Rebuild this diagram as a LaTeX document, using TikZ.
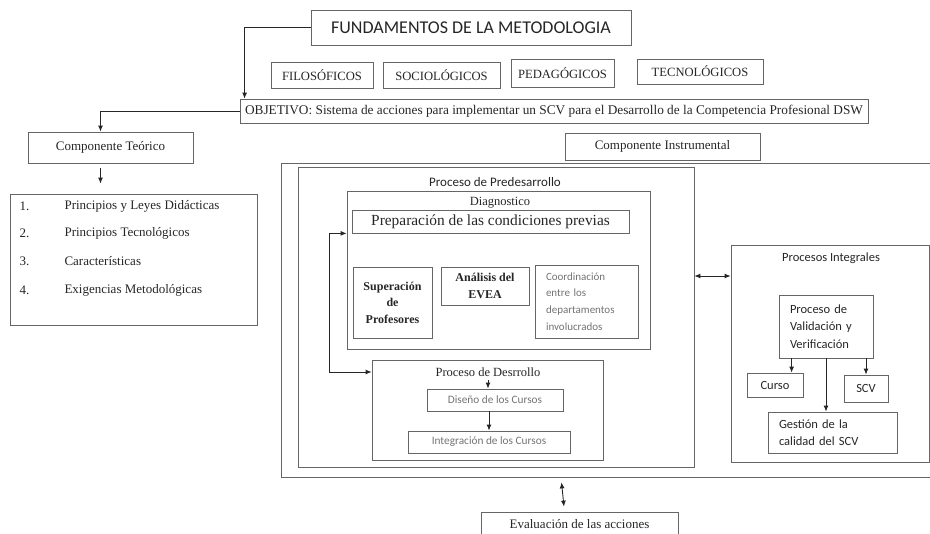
\documentclass[tikz,border=0pt]{standalone}
\usepackage{fontspec}
\setmainfont{Liberation Serif}
\newfontfamily\calibri{Carlito}
\usetikzlibrary{arrows.meta}
\colorlet{linea}{black!60}
\colorlet{tenue}{black!55}
\tikzset{
  >={Latex[length=6pt,width=5pt]},
  caja/.style = {draw=linea, line width=0.8pt, inner sep=0pt, align=center, text=black!85},
  fundam/.style = {caja, font=\fontsize{12.6}{14}\selectfont},
  rotulo/.style = {caja, font=\fontsize{13}{15}\selectfont},
  negrita/.style = {caja, font=\bfseries\fontsize{12}{16.5}\selectfont},
  sans/.style = {caja, font=\calibri\fontsize{12.5}{17.5}\selectfont},
  gris/.style = {caja, text=tenue, font=\calibri\fontsize{11}{16.7}\selectfont},
  izq/.style = {align=left, inner xsep=11pt},
  flecha/.style = {->, draw=black!85, line width=0.9pt},
  punto/.style = {anchor=west, text=black!85, font=\fontsize{13}{15}\selectfont}
}

\begin{document}
\begin{tikzpicture}[x=1pt, y=-1pt]
  \useasboundingbox (0,0) rectangle (930,534);
  \node[caja, minimum width=320, minimum height=35, font=\calibri\fontsize{18}{20}\selectfont] (fund) at (471,27.5) {FUNDAMENTOS DE LA METODOLOGIA};
  \node[fundam, minimum width=102, minimum height=26] (filo) at (322,75) {FILOSÓFICOS};
  \node[fundam, minimum width=117, minimum height=26] (socio) at (441.5,75) {SOCIOLÓGICOS};
  \node[fundam, minimum width=103, minimum height=28] (peda) at (562.5,73) {PEDAGÓGICOS};
  \node[fundam, minimum width=126, minimum height=25] (tecno) at (700,71.5) {TECNOLÓGICOS};
  \node[caja, minimum width=628, minimum height=24, font=\fontsize{13.3}{15}\selectfont] (obj) at (554,111) {OBJETIVO: Sistema de acciones para implementar un SCV para el Desarrollo de la Competencia Profesional DSW};
  \node[rotulo, minimum width=165, minimum height=31] (teo) at (110.5,147.5) {Componente Teórico};
  \node[caja, minimum width=247, minimum height=131] (lista) at (133.5,259.5) {};
  \node[punto] (n1) at (16,206) {1.};
  \node[punto] (p1) at (61,206) {Principios y Leyes Didácticas};
  \node[punto] (n2) at (16,233) {2.};
  \node[punto] (p2) at (61,233) {Principios Tecnológicos};
  \node[punto] (n3) at (16,261) {3.};
  \node[punto] (p3) at (61,261) {Características};
  \node[punto] (n4) at (16,290) {4.};
  \node[punto] (p4) at (61,290) {Exigencias Metodológicas};
  \node[rotulo, minimum width=195, minimum height=27] (instr) at (662.5,146.5) {Componente Instrumental};

  \node[caja, minimum width=659, minimum height=314] (outer) at (610.5,320) {};
  \node[caja, minimum width=396, minimum height=300] (pre) at (496,317) {};
  \node[font=\calibri\fontsize{13}{15}\selectfont, text=black!85] (preT) at (495,182) {Proceso de Predesarrollo};
  \node[caja, minimum width=303, minimum height=158] (diag) at (498.5,270) {};
  \node[font=\fontsize{12.5}{15}\selectfont, text=black!85] (diagT) at (500,203) {Diagnostico};
  \node[caja, minimum width=277, minimum height=23, font=\fontsize{15.4}{18}\selectfont] (prep) at (490.5,221.5) {Preparación de las condiciones previas};
  \node[negrita, minimum width=79, minimum height=71] (sup) at (392.5,302.5) {Superación\\de\\Profesores};
  \node[negrita, minimum width=88, minimum height=38] (ana) at (485,286) {Análisis del\\EVEA};
  \node[gris, izq, text width=81, minimum height=73] (coord) at (586.5,301.5) {Coordinación\\entre los\\departamentos\\involucrados};
  \node[caja, minimum width=231, minimum height=100] (des) at (487.5,410) {};
  \node[font=\fontsize{12.5}{15}\selectfont, text=black!85] (desT) at (488,372) {Proceso de Desrrollo};
  \node[gris, minimum width=136, minimum height=22, font=\calibri\fontsize{11.3}{14}\selectfont] (dis) at (495,400) {Diseño de los Cursos};
  \node[gris, minimum width=162, minimum height=22, font=\calibri\fontsize{11.3}{14}\selectfont] (integ) at (489,442) {Integración de los Cursos};

  \node[caja, minimum width=198, minimum height=217] (integr) at (830,353.5) {};
  \node[font=\calibri\fontsize{12.5}{15}\selectfont, text=black!85] (integrT) at (831,258) {Procesos Integrales};
  \node[sans, izq, text width=72, minimum height=63] (valid) at (826,326.5) {Proceso de\\Validación y\\Verificación};
  \node[sans, minimum width=56, minimum height=24] (curso) at (775,385) {Curso};
  \node[sans, minimum width=44, minimum height=27] (scv) at (866,388.5) {SCV};
  \node[sans, izq, text width=107, minimum height=41] (gest) at (832.5,432.5) {Gestión de la\\calidad del SCV};
  \node[rotulo, minimum width=197, minimum height=24] (eval) at (579.5,524) {Evaluación de las acciones};

  \coordinate (lk) at (329,0);
  \coordinate (mid) at (712,276);
  \draw[flecha] (fund.west) -| ([xshift=5pt]obj.north west);
  \draw[flecha] (obj.west) -| ([xshift=-10pt]teo.north);
  \draw[flecha, shorten <=5pt, shorten >=10pt] ([xshift=-10pt]teo.south) -- ([xshift=-10pt]teo.south |- lista.north);
  \draw[flecha, <->] (prep.south -| diag.west) -- (prep.south -| lk) -- (desT -| lk) -- (desT -| des.west);
  \draw[flecha] (desT) -- (desT |- dis.north);
  \draw[flecha] ([xshift=-6pt]dis.south) -- (integ.north);
  \draw[flecha, <->] (mid -| pre.east) -- (mid -| integr.west);
  \draw[flecha] ([xshift=13pt]valid.south west) -- ([xshift=13pt]valid.south west |- curso.north);
  \draw[flecha] (valid.south -| scv) -- (scv.north);
  \draw[flecha] (valid.south) -- (valid.south |- gest.north);
  \draw[flecha, <->, shorten <=5pt, shorten >=5pt] (outer.south -| 561,0) -- ([xshift=-15pt]eval.north);
\end{tikzpicture}
\end{document}
